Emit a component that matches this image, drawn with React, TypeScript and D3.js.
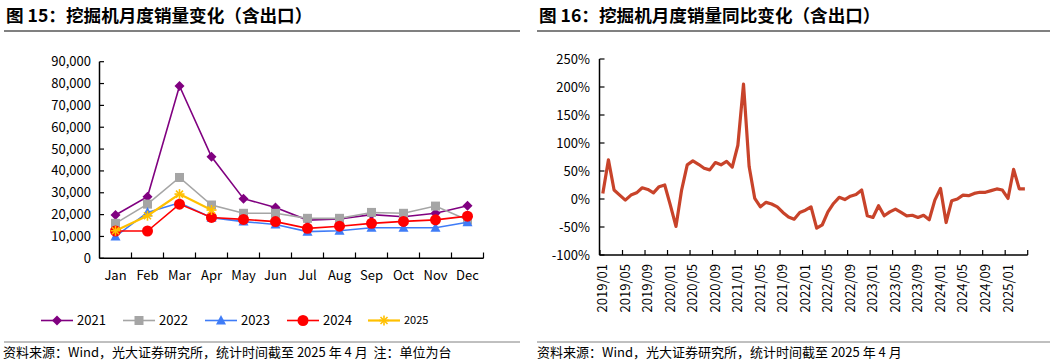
import React from "react";
import * as d3 from "d3";

const months = ["Jan","Feb","Mar","Apr","May","Jun","Jul","Aug","Sep","Oct","Nov","Dec"];
const s2021 = [19800,28200,78900,46500,27300,23300,17500,18000,20000,19000,20600,24100];
const s2022 = [16000,24800,37000,24400,20600,20600,18300,18300,21000,20600,23900,17500];
const s2023 = [10000,21000,25400,18600,16800,15500,12200,12600,14000,14000,14000,16500];
const s2024 = [12500,12500,24800,18700,17800,16800,13700,14700,16000,16900,17600,19300];
const s2025 = [12600,19500,29400,22100];
const seriesNames = ["2021","2022","2023","2024","2025"];
const seriesColors = ["#800080","#a5a5a5","#3f7cf7","#ff0000","#ffc000"];
const leftTicks = [0,10000,20000,30000,40000,50000,60000,70000,80000,90000];

const yoyValues = [
  10,70,16,7,-2,7,11,20,17,11,22,25,
  -11,-49,16,61,68,62,55,52,65,61,67,57,
  96,205,58,1,-14,-6,-9,-14,-24,-32,-36,-24,
  -20,-14,-52,-46,-23,-8,3,-1,5,8,16,-30,
  -33,-12,-30,-23,-18,-24,-30,-29,-33,-29,-37,-2,
  19,-42,-3,0,7,6,10,12,12,15,18,16,
  1,53,18,18
];
const yoyMonths = yoyValues.map((_, i) => {
  const y = 2019 + Math.floor(i / 12);
  const m = (i % 12) + 1;
  return `${y}/${m < 10 ? "0" + m : m}`;
});
const rightTicks = [-100,-50,0,50,100,150,200,250];

const FONT = "'Noto Sans CJK SC', 'Noto Sans', sans-serif";

function Marker({ kind, x, y, color }: { kind: number; x: number; y: number; color: string }) {
  if (kind === 0) {
    const s = 5;
    return <path d={`M${x},${y - s}L${x + s},${y}L${x},${y + s}L${x - s},${y}Z`} fill={color} />;
  }
  if (kind === 1) {
    return <rect x={x - 4.5} y={y - 4.5} width={9} height={9} fill={color} />;
  }
  if (kind === 2) {
    return <path d={`M${x},${y - 5.5}L${x + 5},${y + 4}L${x - 5},${y + 4}Z`} fill={color} />;
  }
  if (kind === 3) {
    return <circle cx={x} cy={y} r={5.5} fill={color} />;
  }
  const r = 5;
  return (
    <g stroke={color} strokeWidth={1.6}>
      <line x1={x - r} y1={y} x2={x + r} y2={y} />
      <line x1={x - r * 0.7} y1={y - r * 0.7} x2={x + r * 0.7} y2={y + r * 0.7} />
      <line x1={x - r * 0.7} y1={y + r * 0.7} x2={x + r * 0.7} y2={y - r * 0.7} />
      <line x1={x} y1={y - r} x2={x} y2={y + r} />
    </g>
  );
}

export default function App() {
  const W = 1054, H = 363;
  // left chart
  const lx = d3.scaleBand().domain(months).range([99.5, 483.5]);
  const ly = d3.scaleLinear().domain([0, 90000]).range([258.3, 61.7]);
  const all = [s2021, s2022, s2023, s2024, s2025];
  const fmt = d3.format(",");
  const lineL = d3.line<number>().x((_, i) => (lx(months[i]) as number) + lx.bandwidth() / 2).y((d) => ly(d));

  // right chart
  const rx = d3.scaleBand().domain(yoyMonths).range([600, 1027.7]);
  const ry = d3.scaleLinear().domain([-100, 250]).range([255, 59]);
  const lineR = d3.line<number>().x((_, i) => (rx(yoyMonths[i]) as number) + rx.bandwidth() / 2).y((d) => ry(d));

  const legendX = [41, 123, 205, 287, 368];

  return (
    <svg width={W} height={H} style={{ position: "absolute", left: 0, top: 0 }} fontFamily={FONT}>
      <rect width={W} height={H} fill="#fff" />
      {/* titles */}
      <text x={6} y={21.5} fontSize={17.6} fontWeight="bold" fill="#000">图 15：挖掘机月度销量变化（含出口）</text>
      <line x1={4} x2={520} y1={31} y2={31} stroke="#808080" strokeWidth={2} />
      <text x={539} y={21.5} fontSize={17.6} fontWeight="bold" fill="#000">图 16：挖掘机月度销量同比变化（含出口）</text>
      <line x1={537} x2={1050} y1={31} y2={31} stroke="#808080" strokeWidth={2} />

      {/* left chart axes */}
      {leftTicks.map((t) => (
        <g key={t}>
          <line x1={99.5} x2={104} y1={ly(t)} y2={ly(t)} stroke="#000" strokeWidth={1.2} />
          <text x={91} y={ly(t)} dy="0.35em" textAnchor="end" fontSize={13} fill="#000">{fmt(t)}</text>
        </g>
      ))}
      <line x1={99.5} x2={99.5} y1={61.7} y2={258.3} stroke="#000" strokeWidth={1.5} />
      <line x1={99.5} x2={483.5} y1={258.3} y2={258.3} stroke="#000" strokeWidth={1.5} />
      {months.map((m, i) => (
        <g key={m}>
          <line x1={(lx(m) as number) + lx.bandwidth()} x2={(lx(m) as number) + lx.bandwidth()} y1={258.3} y2={252.5} stroke="#000" strokeWidth={1.2} />
          <text x={(lx(m) as number) + lx.bandwidth() / 2} y={280} textAnchor="middle" fontSize={13} fill="#000">{m}</text>
        </g>
      ))}
      {all.map((s, k) => (
        <g key={k}>
          <path d={lineL(s) || ""} fill="none" stroke={seriesColors[k]} strokeWidth={k === 4 ? 2.2 : 1.6} />
          {s.map((v, i) => (
            <Marker key={i} kind={k} x={(lx(months[i]) as number) + lx.bandwidth() / 2} y={ly(v)} color={seriesColors[k]} />
          ))}
        </g>
      ))}
      {/* legend */}
      {seriesNames.map((n, k) => (
        <g key={n}>
          <line x1={legendX[k]} x2={legendX[k] + 32} y1={320.5} y2={320.5} stroke={seriesColors[k]} strokeWidth={k === 4 ? 2.2 : 1.6} />
          <Marker kind={k} x={legendX[k] + 16} y={320.5} color={seriesColors[k]} />
          <text x={legendX[k] + 36} y={320.5} dy="0.36em" fontSize={k === 4 ? 11 : 13} fill="#000">{n}</text>
        </g>
      ))}

      {/* right chart */}
      {rightTicks.map((t) => (
        <g key={t}>
          <line x1={599.5} x2={604.5} y1={ry(t)} y2={ry(t)} stroke="#000" strokeWidth={1.2} />
          <text x={590} y={ry(t)} dy="0.35em" textAnchor="end" fontSize={13} fill="#000">{t}%</text>
        </g>
      ))}
      <line x1={599.5} x2={599.5} y1={59} y2={255} stroke="#000" strokeWidth={1.5} />
      <line x1={599.5} x2={1027.7} y1={255} y2={255} stroke="#000" strokeWidth={1.5} />
      {yoyMonths.map((m, i) => (i % 4 === 0 ? (
        <g key={m}>
          <line x1={rx(m) as number} x2={rx(m) as number} y1={255} y2={250} stroke="#000" strokeWidth={1.2} />
          <text transform={`translate(${(rx(m) as number) + rx.bandwidth() / 2 + 4.5},264) rotate(-90)`} textAnchor="end" fontSize={13} fill="#000">{m}</text>
        </g>
      ) : null))}
      <line x1={1027.7} x2={1027.7} y1={255} y2={250} stroke="#000" strokeWidth={1.2} />
      <path d={lineR(yoyValues) || ""} fill="none" stroke="#c8432a" strokeWidth={3.2} strokeLinejoin="round" />

      {/* sources */}
      <line x1={4} x2={520} y1={342} y2={342} stroke="#808080" strokeWidth={1} />
      <text x={3} y={356.5} fontSize={13} fill="#000" style={{ whiteSpace: "pre" }}>{"资料来源：Wind，光大证券研究所，统计时间截至 2025 年 4 月  注：单位为台"}</text>
      <line x1={537} x2={1050} y1={342} y2={342} stroke="#808080" strokeWidth={1} />
      <text x={537} y={356.5} fontSize={13} fill="#000">资料来源：Wind，光大证券研究所，统计时间截至 2025 年 4 月</text>
    </svg>
  );
}
